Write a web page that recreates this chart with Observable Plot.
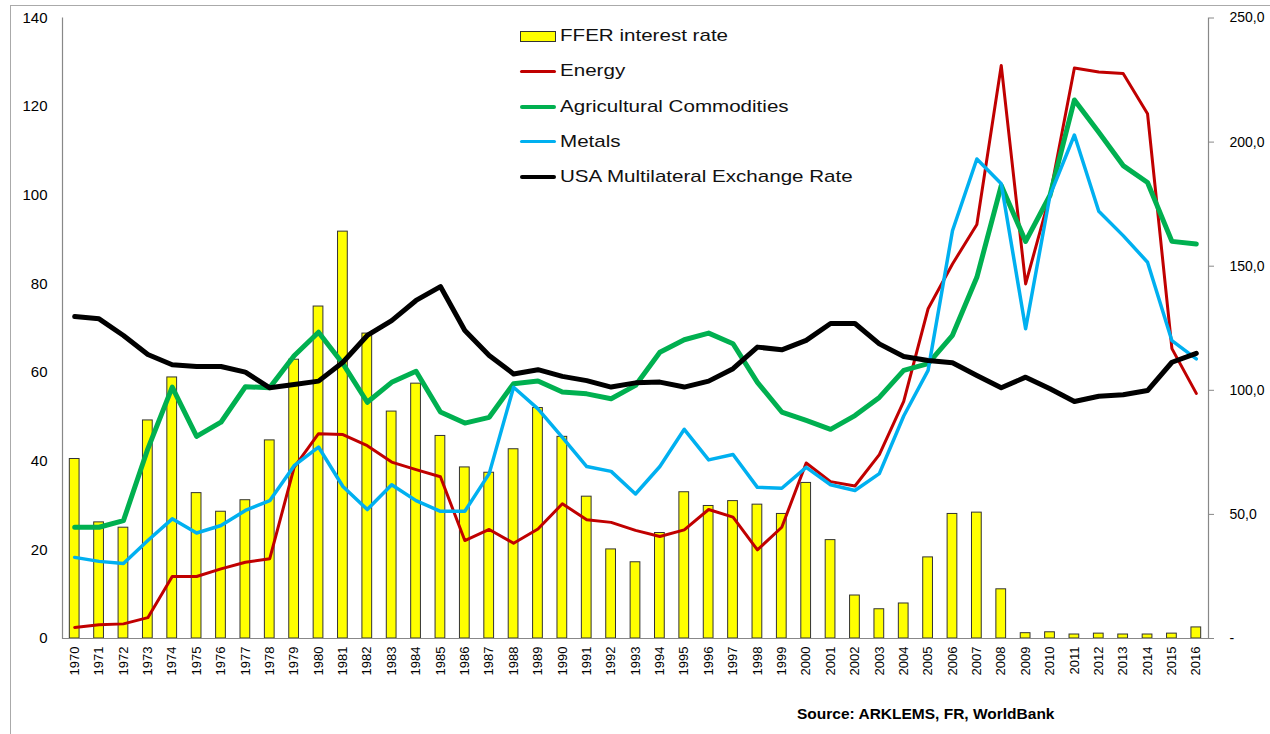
<!DOCTYPE html>
<html>
<head>
<meta charset="utf-8">
<script src="https://cdn.jsdelivr.net/npm/d3@7"></script>
<script src="https://cdn.jsdelivr.net/npm/@observablehq/plot@0.6"></script>
<style>
  body { margin: 0; background: #fff; font-family: "Liberation Sans", Arial, sans-serif; }
  #wrap { position: relative; width: 1270px; height: 734px; overflow: hidden; }
  #border { position: absolute; left: 10px; top: 5px; width: 1400px; height: 900px; border-left: 1.5px solid #aaa; border-top: 1.5px solid #aaa; }
  #chart { position: absolute; left: 0; top: 0; }
  #legend { position: absolute; left: 520px; top: 18.7px; }
  .row { height: 35.2px; display: flex; align-items: center; }
  .sw { width: 36px; display: flex; align-items: center; justify-content: center; }
  .lbl { font-size: 17px; color: #111; margin-left: 4px; transform: scaleX(1.21); transform-origin: left center; white-space: nowrap; }
  #caption { position: absolute; left: 797px; top: 705px; font-weight: bold; font-size: 15.5px; color: #000; white-space: nowrap; }
</style>
</head>
<body>
<div id="wrap">
  <div id="border"></div>
  <div id="chart"></div>
  <div id="legend"></div>
  <div id="caption"></div>
</div>
<script>
// Categories
const years = [1970,1971,1972,1973,1974,1975,1976,1977,1978,1979,
               1980,1981,1982,1983,1984,1985,1986,1987,1988,1989,
               1990,1991,1992,1993,1994,1995,1996,1997,1998,1999,
               2000,2001,2002,2003,2004,2005,2006,2007,2008,2009,
               2010,2011,2012,2013,2014,2015,2016];

// FFER interest rate (bars, left axis units)
const ffer = [40.5,26.2,25.0,49.2,58.9,32.8,28.6,31.2,44.7,62.9,
              74.9,91.8,68.8,51.2,57.5,45.7,38.6,37.4,42.7,52.0,
              45.5,32.0,20.1,17.2,23.8,33.0,29.9,31.0,30.2,28.1,
              35.1,22.2,9.7,6.6,7.9,18.3,28.1,28.4,11.1,1.2,
              1.4,0.9,1.1,0.9,0.9,1.1,2.5];

// Energy (left axis)
const energy = [2.5,3.1,3.3,4.7,14.0,14.0,15.7,17.2,18.0,38.6,
                46.2,46.0,43.5,39.8,38.1,36.5,22.1,24.6,21.5,24.7,
                30.4,26.8,26.2,24.4,23.0,24.5,29.1,27.4,20.0,25.1,
                39.6,35.4,34.4,41.5,53.5,74.4,84.5,93.4,129.3,80.0,
                100.0,128.7,127.8,127.5,118.4,65.4,55.3];

// Agricultural Commodities (left axis)
const agri = [25.1,25.1,26.6,42.8,56.7,45.6,48.8,56.8,56.6,63.8,
              69.1,62.0,53.3,57.8,60.3,51.1,48.6,49.9,57.5,58.1,
              55.6,55.2,54.1,57.1,64.6,67.4,68.9,66.5,57.8,51.1,
              49.2,47.2,50.3,54.4,60.5,62.0,68.4,81.5,102.2,89.6,
              100.0,121.5,114.2,106.7,102.9,89.6,89.0];

// Metals (left axis)
const metals = [18.3,17.4,16.9,22.1,27.0,23.8,25.5,28.9,31.1,39.0,
                43.2,34.3,29.1,34.7,31.1,28.7,28.7,37.2,56.7,51.8,
                45.4,38.8,37.7,32.6,38.8,47.2,40.3,41.5,34.1,33.9,
                38.6,34.7,33.4,37.2,50.2,60.5,92.0,108.2,102.6,69.9,
                100.0,113.6,96.4,90.9,84.9,67.2,63.1];

// USA Multilateral Exchange Rate (right axis units)
const exchange = [129.7,128.8,122.1,114.4,110.3,109.6,109.6,107.3,101.0,102.3,
                  103.7,111.3,122.1,128.1,136.2,141.8,124.1,114.0,106.6,108.3,
                  105.6,103.9,101.3,103.0,103.3,101.3,103.7,108.7,117.4,116.3,
                  120.1,126.9,126.9,118.7,113.6,112.0,111.1,106.0,101.0,105.3,
                  100.6,95.5,97.6,98.2,99.9,111.3,114.9];

// Axis ticks
const leftTicks = [0,20,40,60,80,100,120,140];
const rightTicks = [0,50,100,150,200,250];
const leftMax = 140, rightMax = 250;

// Legend / series names
const seriesNames = ["FFER interest rate","Energy","Agricultural Commodities","Metals","USA Multilateral Exchange Rate"];
const seriesColors = ["#FFFF00","#C00000","#00B050","#00B0F0","#000000"];
const seriesWidths = [0,3,5,3.5,5];
const sourceText = "Source: ARKLEMS, FR, WorldBank";

const toLeft = v => v * leftMax / rightMax;
const rows = years.map((y, i) => ({
  year: String(y), ffer: ffer[i], energy: energy[i], agri: agri[i],
  metals: metals[i], fx: toLeft(exchange[i])
}));

const lineOpts = (key, i) => Plot.lineY(rows, {
  x: "year", y: key, stroke: seriesColors[i], strokeWidth: seriesWidths[i],
  strokeLinejoin: "round", strokeLinecap: "round"
});

const chart = Plot.plot({
  width: 1270, height: 700,
  marginLeft: 62, marginRight: 62, marginTop: 17.5, marginBottom: 62,
  style: { fontFamily: '"Liberation Sans", Arial, sans-serif', background: "transparent", overflow: "visible", color: "#000" },
  x: { type: "band", domain: years.map(String), paddingInner: 0.6, paddingOuter: 0.3, round: false },
  y: { domain: [0, leftMax] },
  marks: [
    Plot.barY(rows, { x: "year", y: "ffer", fill: seriesColors[0], stroke: "#333", strokeWidth: 1 }),
    Plot.ruleY([0], { stroke: "#888", strokeWidth: 1.2 }),
    lineOpts("energy", 1),
    lineOpts("agri", 2),
    lineOpts("metals", 3),
    lineOpts("fx", 4),
    Plot.axisY({ anchor: "left", ticks: leftTicks, tickSize: 0, tickPadding: 15, fontSize: 15, label: null }),
    Plot.axisY({ anchor: "right", ticks: rightTicks.map(toLeft), tickSize: 5, tickPadding: 16, fontSize: 14, label: null, stroke: "#888",
      tickFormat: v => { const r = Math.round(v * rightMax / leftMax); return r === 0 ? "-" : r.toFixed(1).replace(".", ","); } }),
    Plot.axisX({ anchor: "bottom", tickRotate: -90, tickSize: 0, tickPadding: 8, fontSize: 13, label: null }),
    Plot.frame({ anchor: "left", stroke: "#888", strokeWidth: 1.2 }),
    Plot.frame({ anchor: "right", stroke: "#888", strokeWidth: 1.2 })
  ]
});
document.getElementById("chart").appendChild(chart);

// Legend
const legend = document.getElementById("legend");
seriesNames.forEach((name, i) => {
  const row = document.createElement("div");
  row.className = "row";
  const sw = document.createElement("div");
  sw.className = "sw";
  const mark = document.createElement("div");
  if (i === 0) {
    mark.style.cssText = `width:34px;height:9px;background:${seriesColors[0]};border:1px solid #333;`;
  } else {
    mark.style.cssText = `width:36px;height:${Math.max(3, seriesWidths[i] - 1)}px;background:${seriesColors[i]};border-radius:3px;`;
  }
  sw.appendChild(mark);
  const lbl = document.createElement("div");
  lbl.className = "lbl";
  lbl.textContent = name;
  row.appendChild(sw);
  row.appendChild(lbl);
  legend.appendChild(row);
});
document.getElementById("caption").textContent = sourceText;
</script>
</body>
</html>
